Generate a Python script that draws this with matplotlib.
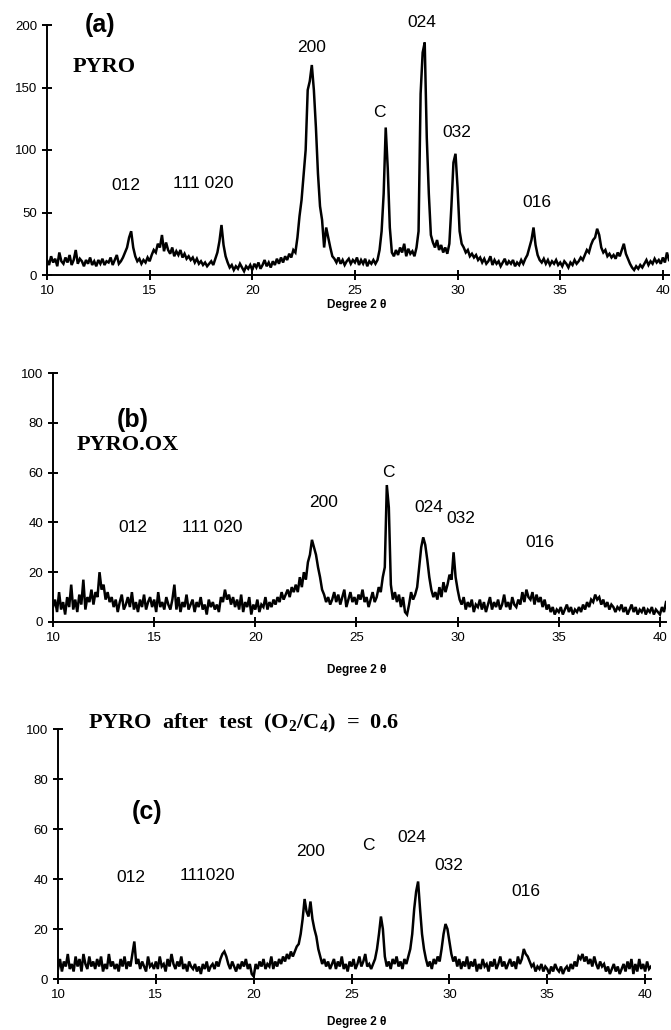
import numpy as np
import matplotlib
matplotlib.use("Agg")
import matplotlib.pyplot as plt

plt.rcParams["font.family"] = ["Liberation Sans", "DejaVu Sans"]
plt.rcParams["mathtext.fontset"] = "custom"
plt.rcParams["mathtext.rm"] = "Liberation Serif:bold"
plt.rcParams["mathtext.bf"] = "Liberation Serif:bold"

# 2-theta grid, 0.1 degree steps from 10.0 to 40.3
two_theta = np.arange(100, 404) / 10.0

# (a) PYRO
pyro = [
    12, 8, 15, 10, 13, 7, 18, 11, 9, 14,
    10, 16, 8, 12, 20, 9, 13, 11, 7, 12,
    9, 14, 8, 11, 7, 12, 9, 13, 8, 11,
    10, 14, 8, 12, 16, 9, 11, 14, 18, 22,
    30, 35, 22, 15, 11, 13, 9, 12, 10, 14,
    11, 16, 20, 18, 25, 22, 32, 19, 26, 20,
    17, 22, 15, 19, 16, 20, 14, 17, 13, 15,
    12, 14, 10, 13, 9, 11, 8, 10, 7, 9,
    11, 8, 13, 18, 27, 40, 24, 15, 10, 6,
    8, 4, 7, 5, 9, 6, 3, 7, 5, 8,
    4, 9, 6, 10, 5, 8, 12, 7, 10, 6,
    11, 8, 13, 9, 14, 10, 15, 12, 17, 14,
    20, 18, 30, 47, 60, 80, 100, 148, 155, 168,
    148, 118, 81, 55, 44, 22, 38, 30, 22, 15,
    13, 10, 14, 9, 12, 8, 11, 13, 9, 12,
    10, 14, 8, 12, 9, 13, 7, 11, 9, 12,
    9, 12, 20, 35, 65, 118, 85, 38, 18, 15,
    20, 16, 22, 18, 25, 15, 21, 17, 19, 15,
    22, 35, 145, 178, 186, 110, 65, 32, 26, 22,
    28, 20, 24, 18, 22, 17, 25, 55, 90, 97,
    70, 35, 25, 22, 18, 20, 15, 17, 14, 16,
    12, 14, 10, 13, 9, 11, 15, 8, 12, 9,
    11, 7, 10, 13, 8, 11, 9, 12, 7, 10,
    8, 12, 9, 13, 16, 22, 28, 38, 24, 16,
    12, 10, 13, 9, 12, 8, 11, 9, 12, 8,
    10, 7, 11, 9, 6, 10, 8, 12, 9, 11,
    14, 12, 16, 20, 18, 24, 28, 30, 37, 32,
    22, 18, 20, 15, 17, 14, 16, 13, 18, 15,
    20, 25, 17, 13, 9, 6, 4, 7, 5, 8,
    6, 9, 12, 8, 11, 9, 13, 10, 12, 9,
    14, 10, 18, 12,
]

# (b) PYRO.OX
pyro_ox = [
    6, 9, 4, 12, 5, 8, 3, 10, 6, 15,
    5, 9, 4, 11, 7, 17, 5, 10, 8, 13,
    7, 12, 10, 20, 13, 15, 9, 12, 8, 10,
    6, 9, 4, 8, 11, 5, 7, 10, 6, 12,
    5, 8, 4, 9, 6, 11, 5, 8, 10, 6,
    9, 4, 12, 6, 8, 5, 10, 7, 5, 9,
    15, 5, 10, 4, 8, 6, 11, 5, 7, 9,
    4, 8, 6, 10, 5, 7, 3, 9, 6, 8,
    5, 7, 4, 10, 8, 13, 9, 11, 7, 10,
    6, 9, 5, 11, 4, 8, 6, 10, 3, 7,
    5, 9, 4, 7, 6, 10, 5, 8, 6, 9,
    7, 10, 8, 12, 9, 11, 13, 10, 14, 12,
    15, 12, 18, 14, 20, 17, 24, 27, 33, 30,
    27, 22, 18, 13, 11, 8, 10, 7, 9, 12,
    8, 11, 7, 10, 13, 6, 9, 12, 8, 10,
    7, 11, 9, 13, 8, 10, 6, 9, 12, 8,
    10, 14, 12, 18, 22, 55, 46, 15, 9, 12,
    8, 11, 6, 10, 4, 3, 7, 12, 9, 11,
    14, 22, 30, 34, 31, 25, 18, 13, 10, 12,
    9, 14, 10, 16, 12, 15, 19, 17, 28, 18,
    13, 9, 7, 10, 5, 8, 6, 9, 4, 7,
    6, 9, 5, 8, 4, 7, 10, 5, 8, 6,
    9, 5, 7, 11, 6, 8, 5, 10, 7, 6,
    9, 7, 12, 8, 13, 10, 9, 12, 7, 11,
    8, 10, 6, 9, 5, 7, 4, 6, 3, 5,
    4, 6, 3, 5, 7, 4, 6, 3, 5, 4,
    6, 4, 7, 5, 8, 6, 9, 8, 11, 9,
    10, 7, 9, 6, 8, 5, 7, 6, 4, 6,
    5, 7, 4, 6, 3, 5, 7, 4, 6, 3,
    5, 4, 6, 3, 5, 4, 6, 3, 5, 4,
    3, 6, 4, 8,
]

# (c) PYRO after test, O2/C4 = 0.6
pyro_test = [
    4, 8, 3, 7, 5, 10, 4, 6, 3, 9,
    5, 8, 3, 10, 6, 4, 9, 5, 7, 4,
    8, 5, 9, 3, 6, 4, 10, 5, 7, 4,
    6, 3, 8, 5, 9, 4, 7, 5, 10, 15,
    6, 8, 4, 7, 5, 3, 9, 5, 6, 4,
    7, 4, 9, 5, 6, 3, 8, 5, 10, 6,
    4, 7, 5, 9, 4, 6, 3, 7, 5, 4,
    6, 3, 5, 2, 6, 4, 7, 3, 5, 6,
    4, 7, 5, 8, 10, 11, 9, 6, 4, 7,
    5, 3, 6, 4, 7, 5, 8, 4, 6, 2,
    1, 6, 4, 7, 5, 8, 4, 6, 5, 9,
    4, 7, 5, 8, 6, 9, 7, 10, 8, 11,
    9, 11, 13, 14, 18, 24, 32, 27, 25, 31,
    24, 20, 17, 12, 9, 6, 8, 5, 7, 4,
    6, 8, 4, 7, 5, 9, 4, 6, 3, 7,
    5, 8, 4, 6, 9, 5, 7, 10, 5, 6,
    4, 6, 8, 12, 18, 25, 20, 9, 5, 7,
    4, 8, 6, 9, 5, 7, 4, 8, 6, 9,
    12, 18, 28, 35, 39, 28, 18, 12, 8, 5,
    7, 4, 8, 6, 9, 7, 12, 18, 22, 20,
    15, 10, 7, 9, 5, 8, 4, 7, 5, 9,
    4, 7, 5, 8, 3, 6, 4, 8, 5, 6,
    3, 7, 5, 8, 4, 6, 9, 5, 7, 4,
    6, 8, 5, 7, 4, 9, 6, 8, 12, 10,
    9, 7, 5, 6, 3, 5, 4, 6, 3, 5,
    4, 2, 5, 3, 6, 4, 3, 5, 2, 4,
    5, 3, 6, 4, 7, 5, 9, 8, 10, 7,
    9, 6, 8, 5, 9, 6, 4, 7, 5, 6,
    3, 5, 2, 4, 6, 3, 5, 2, 4, 6,
    3, 7, 4, 8, 2, 6, 3, 8, 4, 6,
    3, 7, 4, 5,
]

x_ticks = [10, 15, 20, 25, 30, 35, 40]

W, H = 671, 1030
fig = plt.figure(figsize=(W / 100, H / 100), dpi=100)


def frac_box(x0, x1, y_top, y_bot):
    return [x0 / W, 1 - y_bot / H, (x1 - x0) / W, (y_bot - y_top) / H]


def style_axes(ax, ymax, yticks):
    ax.set_xlim(10, 40.3)
    ax.set_ylim(0, ymax)
    ax.set_xticks(x_ticks)
    ax.set_yticks(yticks)
    for side in ("top", "right"):
        ax.spines[side].set_visible(False)
    for side in ("left", "bottom"):
        ax.spines[side].set_linewidth(1.4)
    ax.tick_params(direction="inout", length=7, width=1.4, labelsize=9.5, pad=3.5)
    ax.patch.set_alpha(0)


label_kw = dict(fontsize=12.5, ha="center", va="center", clip_on=False)
serif_bold = dict(family="Liberation Serif", fontweight="bold")
trace_kw = dict(color="black", lw=1.8, solid_joinstyle="miter")

# panel (a)
ax_a = fig.add_axes(frac_box(47, 669, 25, 275))
ax_a.plot(two_theta, pyro, **trace_kw)
style_axes(ax_a, 200, [0, 50, 100, 150, 200])
ax_a.text(12.6, 200, "(a)", fontsize=18, fontweight="bold", ha="center", va="center")
ax_a.text(12.8, 166, "PYRO", fontsize=16, ha="center", va="center", **serif_bold)
for s, xx, yy in [("200", 22.9, 182), ("012", 13.85, 72), ("111 020", 17.6, 73.6),
                  ("C", 26.2, 130), ("024", 28.27, 202), ("032", 29.97, 114),
                  ("016", 33.87, 58)]:
    ax_a.text(xx, yy, s, **label_kw)

# panel (b)
ax_b = fig.add_axes(frac_box(53, 666, 373, 622))
ax_b.plot(two_theta, pyro_ox, **trace_kw)
style_axes(ax_b, 100, [0, 20, 40, 60, 80, 100])
ax_b.text(13.95, 81, "(b)", fontsize=18, fontweight="bold", ha="center", va="center")
ax_b.text(13.7, 71, "PYRO.OX", fontsize=16, ha="center", va="center", **serif_bold)
for s, xx, yy in [("200", 23.35, 48), ("012", 13.95, 37.8), ("111 020", 17.86, 37.8),
                  ("C", 26.56, 60), ("024", 28.6, 45.8), ("032", 30.17, 41.4),
                  ("016", 34.07, 32)]:
    ax_b.text(xx, yy, s, **label_kw)

# panel (c)
ax_c = fig.add_axes(frac_box(58, 651, 729, 979))
ax_c.plot(two_theta, pyro_test, **trace_kw)
style_axes(ax_c, 100, [0, 20, 40, 60, 80, 100])
ax_c.text(11.53, 102.4, "PYRO  after  test  (O$_2$/C$_4$)  =  0.6", fontsize=16,
          ha="left", va="center", clip_on=False, **serif_bold)
ax_c.text(14.55, 66.8, "(c)", fontsize=18, fontweight="bold", ha="center", va="center")
for s, xx, yy in [("200", 22.88, 50.8), ("012", 13.73, 40.4), ("111020", 17.66, 41.2),
                  ("C", 25.84, 53.2), ("024", 28.09, 56.4), ("032", 29.98, 45.2),
                  ("016", 33.91, 35.2)]:
    ax_c.text(xx, yy, s, **label_kw)

# x-axis captions
for y_px in (305, 670, 1022):
    fig.text(357 / W, 1 - y_px / H, "Degree 2 \u03b8", fontsize=8.5, fontweight="bold",
             ha="center", va="center")

fig.savefig("out.png", dpi=100)
